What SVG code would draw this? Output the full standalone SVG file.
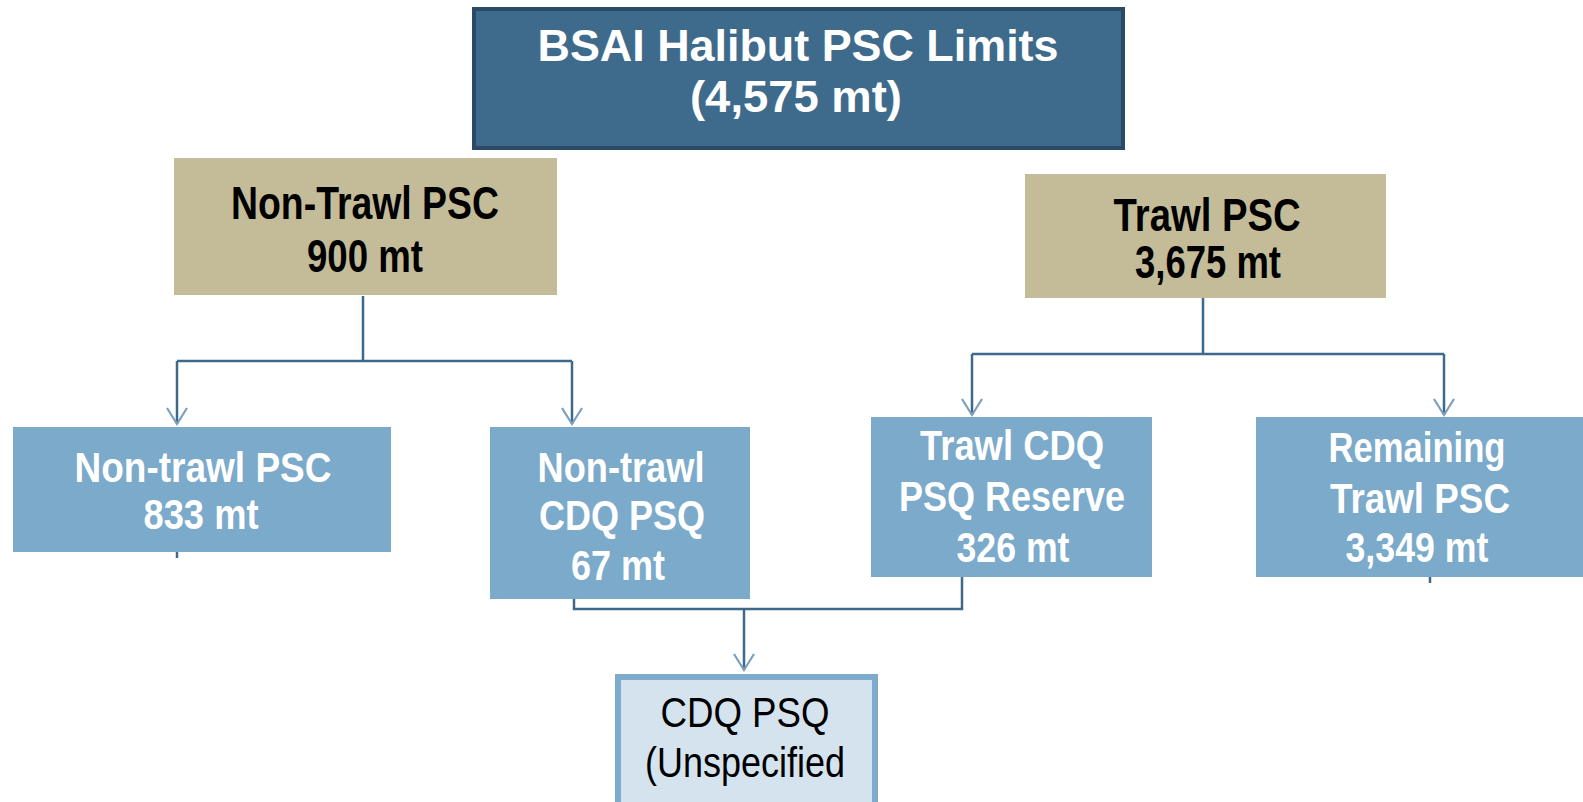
<svg xmlns="http://www.w3.org/2000/svg" width="1583" height="802" viewBox="0 0 1583 802">
<style>
.t{font-family:"Liberation Sans",Arial,sans-serif;text-anchor:middle;}
.wb{fill:#ffffff;font-weight:bold;font-size:43px;}
.bb{fill:#000000;font-weight:bold;font-size:46px;}
.top{fill:#ffffff;font-weight:bold;font-size:45px;}
.rg{fill:#000000;font-size:43px;}
.tan{fill:#c4bc98;}
.mid{fill:#7baaca;}
.conn{fill:none;stroke:#3d6a8c;stroke-width:2.5;}
</style>
<defs>
<marker id="ah" markerUnits="userSpaceOnUse" markerWidth="24" markerHeight="24" refX="0" refY="0" viewBox="-18 -12 20 24" orient="auto" overflow="visible">
<path d="M-16,-10 L0,0 L-16,10" fill="none" stroke="#7b9fbd" stroke-width="2.2"/>
</marker>
</defs>
<rect width="1583" height="802" fill="#ffffff"/>
<g id="connectors">
<path class="conn" d="M363,296 V361 M177,361 H572"/>
<path class="conn" d="M177,361 V424" marker-end="url(#ah)"/>
<path class="conn" d="M572,361 V424" marker-end="url(#ah)"/>
<path class="conn" d="M1203,298 V354 M972,354 H1444"/>
<path class="conn" d="M972,354 V415" marker-end="url(#ah)"/>
<path class="conn" d="M1444,354 V415" marker-end="url(#ah)"/>
<path class="conn" d="M177,552 V558"/>
<path class="conn" d="M1430,577 V583"/>
<path class="conn" d="M574,599 V609 H962 V577"/>
<path class="conn" d="M744,609 V670" marker-end="url(#ah)"/>
</g>
<g id="node-total">
<rect x="474" y="9" width="649" height="139" fill="#3e6b8c" stroke="#2a4a66" stroke-width="4"/>
<text class="t top" x="798" y="61" textLength="521" lengthAdjust="spacingAndGlyphs">BSAI Halibut PSC Limits</text>
<text class="t top" x="796" y="112" textLength="212" lengthAdjust="spacingAndGlyphs">(4,575 mt)</text>
</g>
<g id="node-nontrawl-psc">
<rect class="tan" x="174" y="158" width="383" height="137"/>
<text class="t bb" x="365" y="219" textLength="268" lengthAdjust="spacingAndGlyphs">Non-Trawl PSC</text>
<text class="t bb" x="365" y="272" textLength="116" lengthAdjust="spacingAndGlyphs">900 mt</text>
</g>
<g id="node-trawl-psc">
<rect class="tan" x="1025" y="174" width="361" height="124"/>
<text class="t bb" x="1207" y="231" textLength="187" lengthAdjust="spacingAndGlyphs">Trawl PSC</text>
<text class="t bb" x="1208" y="278" textLength="146" lengthAdjust="spacingAndGlyphs">3,675 mt</text>
</g>
<g id="node-nontrawl-833">
<rect class="mid" x="13" y="427" width="378" height="125"/>
<text class="t wb" x="203" y="482" textLength="257" lengthAdjust="spacingAndGlyphs">Non-trawl PSC</text>
<text class="t wb" x="201" y="529" textLength="115" lengthAdjust="spacingAndGlyphs">833 mt</text>
</g>
<g id="node-nontrawl-cdq">
<rect class="mid" x="490" y="427" width="260" height="172"/>
<text class="t wb" x="621" y="482" textLength="167" lengthAdjust="spacingAndGlyphs">Non-trawl</text>
<text class="t wb" x="622" y="530" textLength="166" lengthAdjust="spacingAndGlyphs">CDQ PSQ</text>
<text class="t wb" x="618" y="580" textLength="94" lengthAdjust="spacingAndGlyphs">67 mt</text>
</g>
<g id="node-trawl-cdq">
<rect class="mid" x="871" y="417" width="281" height="160"/>
<text class="t wb" x="1012" y="460" textLength="184" lengthAdjust="spacingAndGlyphs">Trawl CDQ</text>
<text class="t wb" x="1012" y="511" textLength="226" lengthAdjust="spacingAndGlyphs">PSQ Reserve</text>
<text class="t wb" x="1013" y="562" textLength="113" lengthAdjust="spacingAndGlyphs">326 mt</text>
</g>
<g id="node-remaining">
<rect class="mid" x="1256" y="417" width="327" height="160"/>
<text class="t wb" x="1417" y="462" textLength="177" lengthAdjust="spacingAndGlyphs">Remaining</text>
<text class="t wb" x="1420" y="513" textLength="180" lengthAdjust="spacingAndGlyphs">Trawl PSC</text>
<text class="t wb" x="1417" y="562" textLength="143" lengthAdjust="spacingAndGlyphs">3,349 mt</text>
</g>
<g id="node-cdq-psq">
<rect x="618" y="677" width="257" height="130" fill="#d4e3ee" stroke="#7eaacb" stroke-width="6"/>
<text class="t rg" x="745" y="727" textLength="169" lengthAdjust="spacingAndGlyphs">CDQ PSQ</text>
<text class="t rg" x="745" y="777" textLength="200" lengthAdjust="spacingAndGlyphs">(Unspecified</text>
</g>
</svg>
